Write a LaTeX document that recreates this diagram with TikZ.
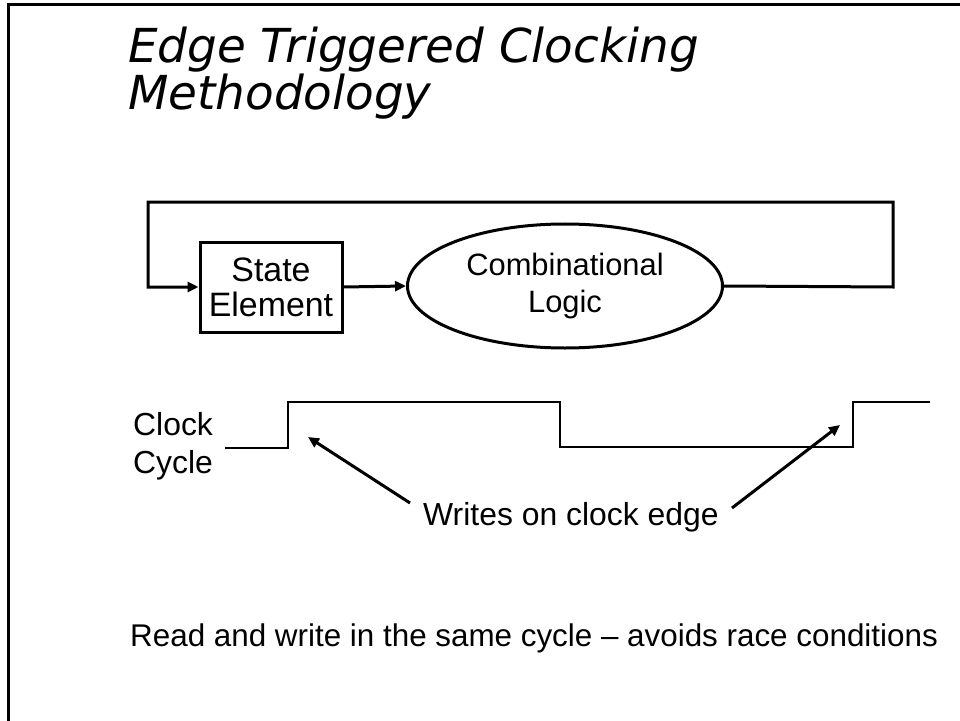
\documentclass[tikz,border=0pt]{standalone}
\usepackage{fontspec}
\setmainfont{Liberation Sans}
\newfontfamily\titlefont{DejaVu Sans}
\usetikzlibrary{shapes.geometric,arrows.meta}
\begin{document}
\begin{tikzpicture}[x=1bp,y=-1bp,
  thick line/.style={line width=3bp},
  thin line/.style={line width=1.3bp},
  arr/.style={-{Triangle[length=11bp,width=10bp]}},
  lbl/.style={font=\fontsize{32}{37}\selectfont, inner sep=0pt},
  titlestyle/.style={anchor=base west, inner sep=0pt, font=\titlefont\itshape\fontsize{47}{48}\selectfont},
  ]
\useasboundingbox (0,0) rectangle (960,721);
% frame
\draw[line width=3bp] (960,5) -- (8,5) -- (8,721);
% title
\node[titlestyle] (t1) at (128,63) {Edge Triggered Clocking};
\node[titlestyle] (t2) at (128,110) {Methodology};
% state element
\node[draw, thick line, minimum width=142bp, minimum height=90bp, inner sep=0pt, align=center,
      font=\fontsize{34}{35}\selectfont] (se) at (271,287) {State\\Element};
% combinational logic
\node[draw, thick line, ellipse, minimum width=315bp, minimum height=124bp, inner sep=0pt, align=center,
      font=\fontsize{31}{37}\selectfont] (cl) at (565,286) {Combinational\\Logic};
\coordinate (c1) at (893,287);
\coordinate (c2) at (893,202);
\coordinate (c3) at (148,202);
\coordinate (c4) at (148,287);
\draw[thick line, arr] (se.east) -- (cl.west);
\draw[thick line, arr] (cl.east) -- (c1) -- (c2) -- (c3) -- (c4) -- (se.west);
% clock
\node[lbl, anchor=base west] (clk) at (133,435) {Clock};
\node[lbl, anchor=base west] (cyc) at (133,473) {Cycle};
\coordinate (w0) at (225,448);
\draw[thin line] (w0) -- (288,448) -- (288,402) -- (560,402) -- (560,447) -- (853,447) -- (853,402) -- (930,402);
\node[lbl, anchor=base west] (wr) at (423,525) {Writes on clock edge};
\coordinate (e1) at (308,437);
\coordinate (e2) at (840,425);
\draw[thick line, arr] (410,503) -- (e1);
\draw[thick line, arr] (732,508) -- (e2);
% bottom
\node[lbl, anchor=base west, font=\fontsize{31.5}{33}\selectfont] (rw) at (130,646) {Read and write in the same cycle -- avoids race conditions};
\end{tikzpicture}
\end{document}
